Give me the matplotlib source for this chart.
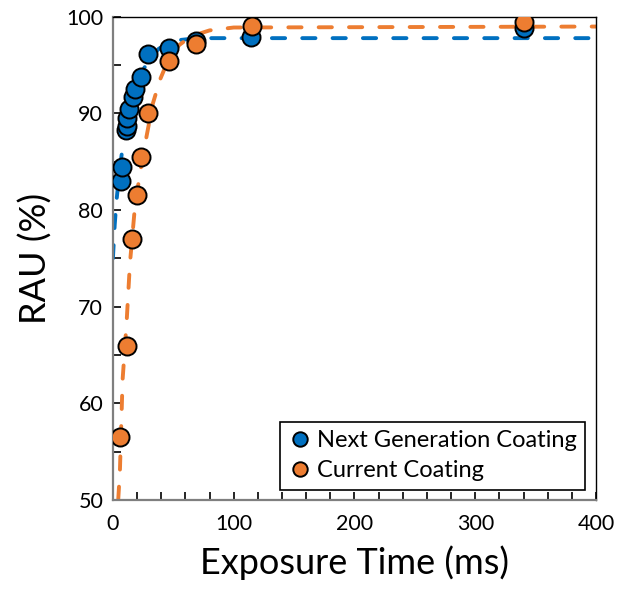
import numpy as np
import matplotlib.pyplot as plt
from matplotlib.ticker import MultipleLocator

# ---- data ----
next_x = [6.3, 7.2, 10.8, 11.3, 11.9, 13.3, 16.3, 18.7, 23.2, 29.3, 46.4, 69.0, 114.3, 340.0]
next_y = [83.0, 84.5, 88.3, 88.7, 89.5, 90.5, 91.7, 92.5, 93.8, 96.2, 96.8, 97.5, 97.9, 98.8]
curr_x = [5.8, 11.9, 16.0, 19.6, 23.2, 29.3, 46.4, 68.7, 115.0, 340.0]
curr_y = [56.5, 65.9, 77.0, 81.6, 85.5, 90.1, 95.4, 97.2, 99.1, 99.5]

# fitted curves
next_fit_x = [0, 1.5, 3, 5, 8.5, 12, 16, 20, 25, 30, 38, 46, 55, 70, 400]
next_fit_y = [75.0, 78.5, 81.0, 83.5, 87.0, 89.6, 91.6, 93.1, 94.5, 95.6, 96.7, 97.3, 97.6, 97.8, 97.8]
curr_fit_x = [4.4, 5.8, 8, 11.3, 14.1, 18.2, 22.4, 27.8, 33, 39, 46, 55, 65, 80, 100, 400]
curr_fit_y = [50.0, 53.0, 62.4, 68.3, 74.5, 80.3, 83.8, 87.6, 91.0, 93.5, 95.6, 97.1, 98.0, 98.6, 98.9, 99.0]

BLUE = '#0070C0'
ORANGE = '#ED7D31'

plt.rcParams['font.family'] = ['Lato', 'DejaVu Sans']

fig = plt.figure(figsize=(6.17, 6.03), dpi=100)
ax = fig.add_axes([0.183, 0.171, 0.783, 0.801])

# fit lines
ax.plot(next_fit_x, next_fit_y, color=BLUE, lw=2.8, dashes=(3.4, 4.4), dash_capstyle='round', zorder=2)
ax.plot(curr_fit_x, curr_fit_y, color=ORANGE, lw=2.8, dashes=(3.4, 4.4), dash_capstyle='round', zorder=2)

# measured points
ax.plot(next_x, next_y, 'o', color=BLUE, mec='black', mew=1.4, ms=13, zorder=3,
        label='Next Generation Coating')
ax.plot(curr_x, curr_y, 'o', color=ORANGE, mec='black', mew=1.4, ms=13, zorder=4,
        label='Current Coating')

ax.set_xlim(0, 400)
ax.set_ylim(50, 100)
ax.xaxis.set_major_locator(MultipleLocator(100))
ax.xaxis.set_minor_locator(MultipleLocator(20))
ax.yaxis.set_major_locator(MultipleLocator(10))
ax.yaxis.set_minor_locator(MultipleLocator(5))
ax.tick_params(which='both', direction='in', length=6, width=1.2, labelsize=15.5,
               top=False, right=False)
ax.tick_params(axis='x', pad=10)
ax.tick_params(axis='y', pad=7)

for side in ['left', 'bottom']:
    ax.spines[side].set_color('#7f7f7f')
    ax.spines[side].set_linewidth(1.6)
for side in ['top', 'right']:
    ax.spines[side].set_color('black')
    ax.spines[side].set_linewidth(1.0)

ax.set_xlabel('Exposure Time (ms)', fontsize=26, labelpad=8)
ax.set_ylabel('RAU (%)', fontsize=26, labelpad=10)

leg = ax.legend(loc='lower right', fontsize=17, markerscale=0.8, handletextpad=0.2,
                handlelength=1.0, borderpad=0.35, labelspacing=0.4, borderaxespad=0,
                fancybox=False, framealpha=1, edgecolor='black',
                bbox_to_anchor=(0.977, 0.021))
leg.get_frame().set_linewidth(1.2)

fig.savefig('out.png', dpi=100)
